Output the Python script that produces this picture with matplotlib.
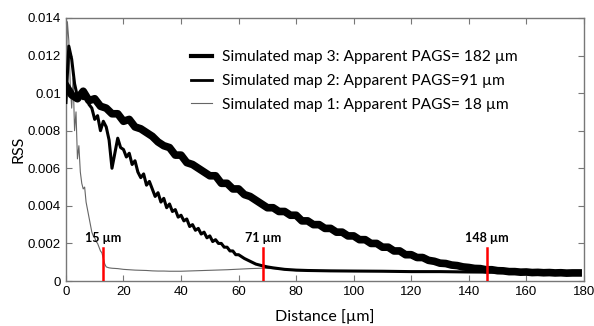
import matplotlib
matplotlib.use("Agg")
import matplotlib.pyplot as plt
from matplotlib.lines import Line2D

# ---- data ----
map3_x = list(range(0, 180, 2))
map3_y = [0.0104, 0.0099, 0.0097, 0.0101, 0.0096, 0.0097, 0.0093, 0.0092, 0.0089, 0.0089,
          0.0085, 0.0086, 0.0082, 0.0081, 0.0079, 0.0077, 0.0074, 0.0072, 0.0071, 0.0067,
          0.0067, 0.0063, 0.0062, 0.0060, 0.0058, 0.0056, 0.0056, 0.0052, 0.0052, 0.0049,
          0.0049, 0.0046, 0.0045, 0.0043, 0.0041, 0.0039, 0.0039, 0.0037, 0.0037, 0.0035,
          0.0035, 0.0032, 0.0032, 0.0030, 0.0030, 0.0028, 0.0028, 0.0026, 0.0026, 0.0024,
          0.0024, 0.0022, 0.0022, 0.0020, 0.0020, 0.0018, 0.0018, 0.0016, 0.0016, 0.0014,
          0.0014, 0.00125, 0.00125, 0.0011, 0.00105, 0.00095, 0.00093, 0.00085, 0.00082, 0.00075,
          0.00072, 0.00067, 0.00066, 0.0006, 0.0006, 0.00055, 0.00054, 0.0005, 0.0005, 0.00047,
          0.00048, 0.00045, 0.00046, 0.00044, 0.00045, 0.00043, 0.00044, 0.00042, 0.00043, 0.00043]

map2_x = list(range(0, 61)) + [62, 64, 66, 68, 70, 72, 74, 76, 78, 80, 84, 88, 92, 100,
                                110, 120, 130, 140, 150, 160, 178]
map2_y = [0.0095, 0.0125, 0.0118, 0.0105, 0.0098, 0.0100, 0.0097, 0.0099, 0.0094, 0.0092,
          0.0086, 0.0088, 0.0080, 0.0085, 0.0082, 0.0075, 0.0060, 0.0068, 0.0076, 0.0071,
          0.0070, 0.0066, 0.0068, 0.0062, 0.0064, 0.0058, 0.0055, 0.0057, 0.0051, 0.0053,
          0.0049, 0.0045, 0.0047, 0.0042, 0.0044, 0.0039, 0.0041, 0.0037, 0.0038, 0.0034,
          0.0035, 0.0032, 0.0033, 0.0029, 0.0030, 0.0027, 0.0028, 0.0025, 0.0026, 0.0023,
          0.0024, 0.0021, 0.0022, 0.0020, 0.0020, 0.0018, 0.0018, 0.0016, 0.0016, 0.0014,
          0.0014,
          0.0012, 0.00105, 0.0009, 0.00082, 0.00075, 0.0007, 0.00066, 0.00062, 0.0006, 0.00058,
          0.00056, 0.00055, 0.00054, 0.00053, 0.00052, 0.0005, 0.0005, 0.00048, 0.00047, 0.00046,
          0.00045]

map1_x = [0, 0.5, 1, 1.5, 2, 2.5, 3, 3.5, 4, 4.5, 5, 5.5, 6, 6.5, 7, 7.5, 8, 8.5, 9, 9.5,
          10, 10.5, 11, 11.5, 12, 12.5, 13, 13.5, 14, 15, 16, 18, 20, 22, 24, 26, 28, 30, 32,
          34, 36, 38, 40, 44, 48, 52, 56, 60, 64, 68, 72, 76, 80, 90, 100, 110, 120, 130, 140,
          150, 160, 170, 178]
map1_y = [0.0100, 0.0138, 0.0128, 0.0105, 0.0092, 0.0108, 0.0080, 0.0090, 0.0065, 0.0072,
          0.0058, 0.0052, 0.0049, 0.0050, 0.0042, 0.0038, 0.0034, 0.0030, 0.0026, 0.0024,
          0.0023, 0.0021, 0.0020, 0.0018, 0.0016, 0.0015, 0.0012, 0.0009, 0.00075, 0.0007,
          0.00068, 0.00066, 0.00062, 0.0006, 0.00058, 0.00057, 0.00056, 0.00054, 0.00053,
          0.00053, 0.00052, 0.00052, 0.00052, 0.00054, 0.00056, 0.00058, 0.0006, 0.00063,
          0.00066, 0.00068, 0.00066, 0.0006, 0.00055, 0.00053, 0.00052, 0.00051, 0.0005,
          0.0005, 0.00049, 0.00048, 0.00048, 0.00047, 0.00047]

marker_x = [12.9, 68.6, 146.2]
marker_top = [0.00175, 0.00175, 0.00175]
marker_labels = ["15 \u00b5m", "71 \u00b5m", "148 \u00b5m"]

legend_labels = ["Simulated map 3: Apparent PAGS= 182 \u00b5m",
                 "Simulated map 2: Apparent PAGS=91 \u00b5m",
                 "Simulated map 1: Apparent PAGS= 18 \u00b5m"]

yticks = [0, 0.002, 0.004, 0.006, 0.008, 0.010, 0.012, 0.014]
ytick_labels = ["0", "0.002", "0.004", "0.006", "0.008", "0.01", "0.012", "0.014"]
xticks = list(range(0, 181, 20))

# ---- figure ----
fig = plt.figure(figsize=(5.94, 3.26), dpi=100)
ax = fig.add_axes([0.111, 0.138, 0.872, 0.807])

ax.plot(map1_x, map1_y, color="#666666", lw=0.8, zorder=2)
ax.plot(map2_x, map2_y, color="black", lw=2.2, zorder=3)
ax.plot(map3_x, map3_y, color="black", lw=5.5, zorder=4)

for xm, top, lab in zip(marker_x, marker_top, marker_labels):
    ax.plot([xm, xm], [0, top], color="red", lw=1.8, zorder=6)
    ax.text(xm, top + 0.0002, lab, ha="center", va="bottom", fontsize=9,
            fontweight="bold", family=["Lato", "DejaVu Sans"], zorder=7)

ax.set_xlim(0, 180)
ax.set_ylim(0, 0.014)
ax.set_xticks(xticks)
ax.set_xticklabels([str(t) for t in xticks])
ax.set_yticks(yticks)
ax.set_yticklabels(ytick_labels)
ax.tick_params(direction="in", top=True, right=True, length=4, color="#777777",
               labelsize=9.5)
for lab in ax.get_xticklabels() + ax.get_yticklabels():
    lab.set_family(["Liberation Sans", "DejaVu Sans"])
for s in ax.spines.values():
    s.set_color("#777777")
    s.set_linewidth(1.0)

ax.set_xlabel("Distance [\u00b5m]", fontsize=11.5, family=["Lato", "DejaVu Sans"], labelpad=8)
ax.set_ylabel("RSS", fontsize=11.5, family=["Lato", "DejaVu Sans"], labelpad=2)

handles = [Line2D([], [], color="black", lw=3.0),
           Line2D([], [], color="black", lw=2.0),
           Line2D([], [], color="#666666", lw=0.8)]
leg = ax.legend(handles, legend_labels, loc="upper left", bbox_to_anchor=(0.215, 0.93),
                frameon=False, handlelength=1.35, handletextpad=0.6, labelspacing=0.62,
                prop={"family": ["Lato", "DejaVu Sans"], "size": 11.2})

fig.savefig("out.png", dpi=100)
